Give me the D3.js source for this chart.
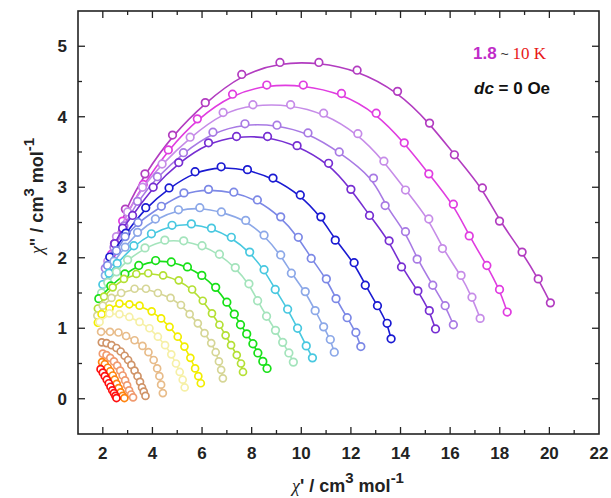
<!DOCTYPE html>
<html>
<head>
<meta charset="utf-8">
<title></title>
<style>
  body { margin: 0; background: #fff; }
  svg text { font-family: "Liberation Sans", Arial, sans-serif; }
</style>
</head>
<body>
<div class="chart"></div>
<script src="https://cdn.jsdelivr.net/npm/d3@7"></script>
<script type="text/javascript">
  var width  = 611;
  var height = 498;

  // temperatures 1.8 K (outer) ... 10 K (inner)
  var colors = ["#b23cc0", "#e03ce0", "#c68ce8", "#a87ae4", "#762ed2", "#1a1ad2",
                "#7c88e6", "#8ca8e8", "#48c8e0", "#a4e4bc", "#18e018", "#b4e034",
                "#d6d696", "#f2ee00", "#f6f0a6", "#e8bc8a", "#d09468", "#f09a70",
                "#ff8410", "#ff1010"];

  var s1  = [[2.47,2.2],[2.91,2.69],[3.7,3.19],[4.81,3.74],[6.13,4.2],[7.6,4.6],[9.14,4.77],[10.71,4.77],[12.25,4.66],[13.88,4.36],[15.17,3.91],[16.17,3.46],[17.3,2.99],[17.99,2.52],[18.9,2.08],[19.55,1.7],[20.04,1.36]];
  var s2  = [[2.35,2.05],[2.8,2.52],[3.63,3.04],[4.64,3.53],[5.81,3.97],[7.23,4.32],[8.61,4.45],[10.08,4.45],[11.62,4.33],[13.02,4.05],[14.15,3.63],[15.14,3.19],[16.13,2.76],[16.77,2.31],[17.48,1.89],[17.99,1.55],[18.3,1.23]];
  var s3  = [[2.2,1.95],[2.55,2.3],[3.0,2.65],[3.6,3.0],[4.39,3.33],[5.52,3.71],[6.85,4.06],[8.05,4.17],[9.57,4.17],[10.9,4.05],[12.28,3.76],[13.33,3.37],[14.2,2.96],[15.14,2.55],[15.69,2.13],[16.44,1.75],[16.88,1.44],[17.21,1.14]];
  var s4  = [[2.1,1.85],[2.45,2.15],[2.85,2.45],[3.4,2.8],[4.2,3.15],[5.25,3.49],[6.44,3.78],[7.73,3.9],[9.02,3.88],[10.27,3.77],[11.53,3.5],[12.91,3.13],[13.38,2.74],[14.2,2.37],[14.67,1.98],[15.3,1.61],[15.8,1.32],[16.13,1.05]];
  var s5  = [[2.48,2.2],[2.8,2.42],[3.2,2.6],[4.03,3.0],[5.06,3.35],[6.26,3.63],[7.39,3.72],[8.64,3.72],[9.83,3.59],[11.1,3.34],[12.0,2.97],[12.75,2.6],[13.54,2.24],[14.04,1.87],[14.7,1.53],[15.16,1.25],[15.41,0.99]];
  var s6  = [[2.28,2.01],[2.93,2.35],[3.73,2.71],[4.67,2.99],[5.72,3.22],[6.77,3.29],[7.83,3.25],[8.86,3.13],[9.96,2.89],[10.79,2.58],[11.37,2.25],[12.13,1.93],[12.58,1.61],[13.07,1.32],[13.46,1.07],[13.62,0.85]];
  var s7  = [[2.19,1.89],[2.55,2.1],[2.9,2.3],[3.42,2.5],[4.36,2.73],[5.27,2.92],[6.26,2.97],[7.28,2.93],[8.23,2.82],[9.17,2.58],[9.88,2.29],[10.4,1.99],[11.01,1.7],[11.4,1.42],[11.85,1.15],[12.2,0.94],[12.4,0.74]];
  var s8  = [[2.1,1.75],[2.45,1.95],[2.9,2.15],[3.4,2.36],[4.12,2.55],[5.05,2.68],[5.91,2.71],[6.78,2.65],[7.76,2.53],[8.5,2.32],[9.17,2.04],[9.6,1.78],[10.16,1.52],[10.56,1.25],[10.9,1.02],[11.17,0.84],[11.33,0.66]];
  var s9  = [[2.0,1.62],[2.25,1.78],[2.58,1.92],[3.25,2.17],[3.96,2.34],[4.79,2.46],[5.57,2.48],[6.38,2.42],[7.18,2.29],[7.92,2.08],[8.5,1.83],[8.95,1.55],[9.45,1.27],[9.85,1.0],[10.2,0.75],[10.45,0.58]];
  var s10 = [[1.95,1.5],[2.2,1.65],[2.55,1.8],[3.0,1.97],[3.7,2.14],[4.5,2.25],[5.26,2.24],[6.0,2.17],[6.7,2.05],[7.34,1.86],[7.89,1.63],[8.24,1.39],[8.6,1.17],[8.96,0.97],[9.25,0.8],[9.5,0.65],[9.68,0.52]];
  var s11 = [[1.84,1.42],[2.32,1.6],[2.89,1.77],[3.45,1.89],[4.13,1.96],[4.76,1.94],[5.41,1.87],[5.99,1.75],[6.55,1.58],[7.0,1.37],[7.3,1.2],[7.55,1.05],[7.8,0.92],[8.05,0.78],[8.25,0.65],[8.45,0.53],[8.62,0.43]];
  var s12 = [[1.8,1.28],[2.05,1.45],[2.4,1.58],[2.85,1.7],[3.35,1.77],[3.83,1.78],[4.43,1.75],[5.06,1.68],[5.6,1.55],[6.03,1.39],[6.4,1.21],[6.7,1.05],[6.95,0.9],[7.17,0.76],[7.4,0.62],[7.57,0.5],[7.65,0.38]];
  var s13 = [[1.78,1.18],[2.0,1.32],[2.35,1.43],[2.74,1.5],[3.28,1.56],[3.74,1.56],[4.22,1.5],[4.73,1.43],[5.15,1.33],[5.5,1.2],[5.83,1.07],[6.1,0.93],[6.37,0.79],[6.55,0.66],[6.68,0.53],[6.77,0.41],[6.84,0.29]];
  var s14 = [[1.8,1.08],[1.95,1.2],[2.27,1.28],[2.67,1.35],[3.07,1.34],[3.48,1.32],[3.97,1.24],[4.35,1.14],[4.69,1.02],[5.02,0.88],[5.29,0.74],[5.53,0.58],[5.72,0.43],[5.85,0.32],[5.95,0.22]];
  var s15 = [[1.87,1.09],[2.27,1.21],[2.67,1.2],[3.07,1.16],[3.48,1.09],[3.88,1.0],[4.22,0.88],[4.51,0.76],[4.76,0.63],[4.95,0.5],[5.1,0.38],[5.22,0.27],[5.3,0.16]];
  var s16 = [[1.93,0.95],[2.29,0.95],[2.63,0.94],[2.94,0.89],[3.28,0.83],[3.6,0.75],[3.84,0.66],[4.05,0.55],[4.19,0.43],[4.28,0.32],[4.35,0.2],[4.42,0.08]];
  var s17 = [[1.96,0.8],[2.15,0.79],[2.35,0.76],[2.55,0.72],[2.72,0.67],[2.88,0.61],[3.02,0.55],[3.15,0.48],[3.28,0.4],[3.4,0.32],[3.5,0.24],[3.58,0.16],[3.65,0.1],[3.72,0.04]];
  var s18 = [[2.0,0.64],[2.15,0.62],[2.3,0.58],[2.45,0.53],[2.58,0.47],[2.7,0.4],[2.8,0.33],[2.9,0.26],[2.98,0.19],[3.06,0.12],[3.14,0.06],[3.22,0.02]];
  var s19 = [[1.97,0.52],[2.08,0.49],[2.2,0.44],[2.3,0.39],[2.4,0.33],[2.48,0.27],[2.56,0.21],[2.64,0.15],[2.72,0.09],[2.8,0.04],[2.87,0.01]];
  var s20 = [[1.91,0.42],[2.0,0.37],[2.08,0.32],[2.16,0.27],[2.24,0.22],[2.31,0.17],[2.38,0.12],[2.45,0.08],[2.51,0.04],[2.55,0.01]];

  var series = [s1, s2, s3, s4, s5, s6, s7, s8, s9, s10, s11, s12, s13, s14, s15, s16, s17, s18, s19, s20];

  var xTicks = [2, 4, 6, 8, 10, 12, 14, 16, 18, 20, 22];
  var yTicks = [0, 1, 2, 3, 4, 5];

  var pLeft = 78, pRight = 599, pTop = 11, pBottom = 434;

  var x = d3.scaleLinear().domain([1, 22]).range([pLeft, pRight]);
  var y = d3.scaleLinear().domain([-0.5, 5.5]).range([pBottom, pTop]);

  var svg = d3.select('.chart').append("svg").attr("width", width).attr("height", height);

  var line = d3.line()
    .x(function(d) { return x(d[0]); })
    .y(function(d) { return y(d[1]); })
    .curve(d3.curveBasis);

  series.forEach(function(s, i) {
    var g = svg.append("g");
    g.append("path")
      .attr("d", line(s))
      .attr("fill", "none")
      .attr("stroke", colors[i])
      .attr("stroke-width", 1.6);
    g.selectAll("circle").data(s).enter().append("circle")
      .attr("cx", function(d) { return x(d[0]); })
      .attr("cy", function(d) { return y(d[1]); })
      .attr("r", i < 11 ? 3.8 : 3.5)
      .attr("fill", "#fff")
      .attr("stroke", colors[i])
      .attr("stroke-width", 1.7);
  });

  // axes, ticks pointing inward on all four sides
  var xMinor = d3.range(1, 23, 1).filter(function(v) { return xTicks.indexOf(v) < 0; });
  var yMinor = d3.range(-0.5, 5.6, 0.5).filter(function(v) { return yTicks.indexOf(v) < 0; });

  var ax = svg.append("g").attr("stroke", "#222").attr("stroke-width", 1.3);
  xTicks.concat(xMinor).forEach(function(v) {
    var len = xTicks.indexOf(v) >= 0 ? 7 : 4;
    if (v <= 1 || v >= 22) return;
    ax.append("line").attr("x1", x(v)).attr("x2", x(v)).attr("y1", pBottom).attr("y2", pBottom - len);
    ax.append("line").attr("x1", x(v)).attr("x2", x(v)).attr("y1", pTop).attr("y2", pTop + len);
  });
  yTicks.concat(yMinor).forEach(function(v) {
    var len = yTicks.indexOf(v) >= 0 ? 7 : 4;
    if (v <= -0.5 || v >= 5.5) return;
    ax.append("line").attr("x1", pLeft).attr("x2", pLeft + len).attr("y1", y(v)).attr("y2", y(v));
    ax.append("line").attr("x1", pRight).attr("x2", pRight - len).attr("y1", y(v)).attr("y2", y(v));
  });
  svg.append("rect")
    .attr("x", pLeft).attr("y", pTop)
    .attr("width", pRight - pLeft).attr("height", pBottom - pTop)
    .attr("fill", "none").attr("stroke", "#222").attr("stroke-width", 1.6);

  svg.selectAll(".xl").data(xTicks).enter().append("text")
    .attr("x", function(d) { return x(d); })
    .attr("y", 459)
    .attr("text-anchor", "middle")
    .attr("font-size", 17).attr("font-weight", "bold").attr("fill", "#222")
    .text(function(d) { return d; });

  svg.selectAll(".yl").data(yTicks).enter().append("text")
    .attr("x", 67)
    .attr("y", function(d) { return y(d) + 6; })
    .attr("text-anchor", "end")
    .attr("font-size", 17).attr("font-weight", "bold").attr("fill", "#222")
    .text(function(d) { return d; });

  // axis titles
  var xt = svg.append("text")
    .attr("x", 348).attr("y", 492)
    .attr("text-anchor", "middle")
    .attr("font-size", 18).attr("fill", "#222");
  xt.append("tspan").attr("font-family", "Liberation Serif, serif").attr("font-style", "italic").text("χ");
  xt.append("tspan").attr("font-weight", "bold").text("' / cm");
  xt.append("tspan").attr("font-weight", "bold").attr("dy", -9).attr("font-size", 15).text("3");
  xt.append("tspan").attr("font-weight", "bold").attr("dy", 9).text(" mol");
  xt.append("tspan").attr("font-weight", "bold").attr("dy", -9).attr("font-size", 15).text("-1");

  var yt = svg.append("text")
    .attr("transform", "translate(43,196) rotate(-90)")
    .attr("text-anchor", "middle")
    .attr("font-size", 18).attr("fill", "#222");
  yt.append("tspan").attr("font-family", "Liberation Serif, serif").attr("font-style", "italic").text("χ");
  yt.append("tspan").attr("font-weight", "bold").text('" / cm');
  yt.append("tspan").attr("font-weight", "bold").attr("dy", -9).attr("font-size", 15).text("3");
  yt.append("tspan").attr("font-weight", "bold").attr("dy", 9).text(" mol");
  yt.append("tspan").attr("font-weight", "bold").attr("dy", -9).attr("font-size", 15).text("-1");

  // legend text
  var lg = svg.append("text").attr("x", 473).attr("y", 59).attr("font-size", 17);
  lg.append("tspan").attr("font-weight", "bold").attr("fill", "#c02cc8").text("1.8");
  lg.append("tspan").attr("fill", "#333").attr("font-size", 14).text(" ~ ");
  lg.append("tspan").attr("font-family", "Liberation Serif, serif").attr("fill", "#e81818").text("10 K");

  var lg2 = svg.append("text").attr("x", 474).attr("y", 94).attr("font-size", 17).attr("font-weight", "bold").attr("fill", "#111");
  lg2.append("tspan").attr("font-style", "italic").text("dc");
  lg2.append("tspan").text(" = 0 Oe");
</script>
</body>
</html>
